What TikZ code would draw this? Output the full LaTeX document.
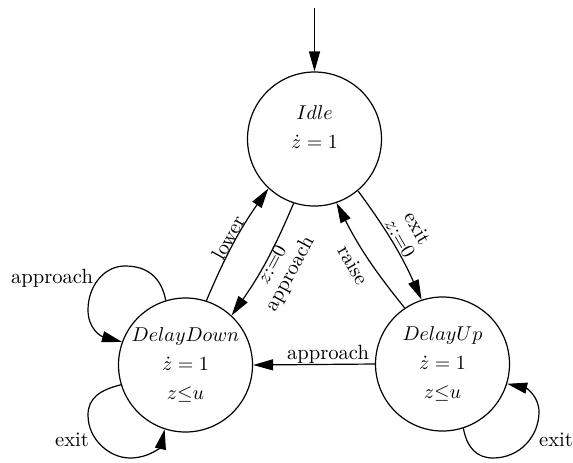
\documentclass[tikz,border=0pt]{standalone}
\usetikzlibrary{arrows.meta}
\begin{document}
\begin{tikzpicture}[x=0.5pt,y=-0.5pt, line width=0.6pt,
  state/.style={draw, circle, minimum size=67pt, inner sep=0pt, align=center,
    font=\fontsize{10.3pt}{14.5pt}\selectfont},
  stxt/.style={align=center, inner sep=0pt, font=\fontsize{10.3pt}{14.5pt}\selectfont},
  lbl/.style={font=\fontsize{10.3pt}{10pt}\selectfont, inner sep=1pt, align=center},
  edge/.style={->},
  >={Triangle[length=10pt,width=5.5pt]}]
\useasboundingbox (0,0) rectangle (573,462);

% states
\node[state] (idle) at (314.5,139) {};
\node[stxt] (idletxt) at (314.5,127.5) {$Idle$\\$\dot z=1$};
\node[state] (dd) at (185.5,365) {$DelayDown$\\$\dot z=1$\\$z{\le}u$};
\node[state] (du) at (442.5,364) {$DelayUp$\\$\dot z=1$\\$z{\le}u$};

% initial
\coordinate (init) at (314.5,8);
\draw[edge] (init) -- (idle.north);

% edges between states
\draw[edge] (dd.72) to[bend left=6] (idle.227);
\draw[edge] (idle.-108) to[bend left=6] (dd.47);
\draw[edge] (idle.-50) to[bend left=6] (du.108);
\draw[edge] (du.124) to[bend left=6] (idle.-71);
\draw[edge] (du.west) -- (dd.east);

% self loops
\draw[edge] (dd.107) .. controls (161,276) and (146,266) .. (125,266)
  .. controls (104,266) and (88,286) .. (88,310)
  .. controls (88,328) and (100,336) .. (dd.160);
\draw[edge] (dd.197) .. controls (100,390) and (88,398) .. (88,415)
  .. controls (88,440) and (110,458) .. (130,458)
  .. controls (150,458) and (161,446) .. (dd.252);
\draw[edge] (du.-72) .. controls (467,448) and (477,458) .. (493,458)
  .. controls (520,458) and (539,436) .. (539,412)
  .. controls (539,396) and (526,388) .. (du.-17);

% labels
\node[lbl, rotate=61] (llower) at (228,238) {lower};
\node[lbl, rotate=61.5] (lapp1) at (282,270) {$z{:=}0$\\approach};
\node[lbl, rotate=-60] (lraise) at (353,265) {raise};
\node[lbl, rotate=-60] (lexit1) at (409,233) {exit\\$z{:=}0$};
\node[lbl] (lapp2) at (328,354) {approach};
\node[lbl] (lapp3) at (52,278) {approach};
\node[lbl] (lexit2) at (72,440) {exit};
\node[lbl] (lexit3) at (556,440) {exit};
\end{tikzpicture}
\end{document}
